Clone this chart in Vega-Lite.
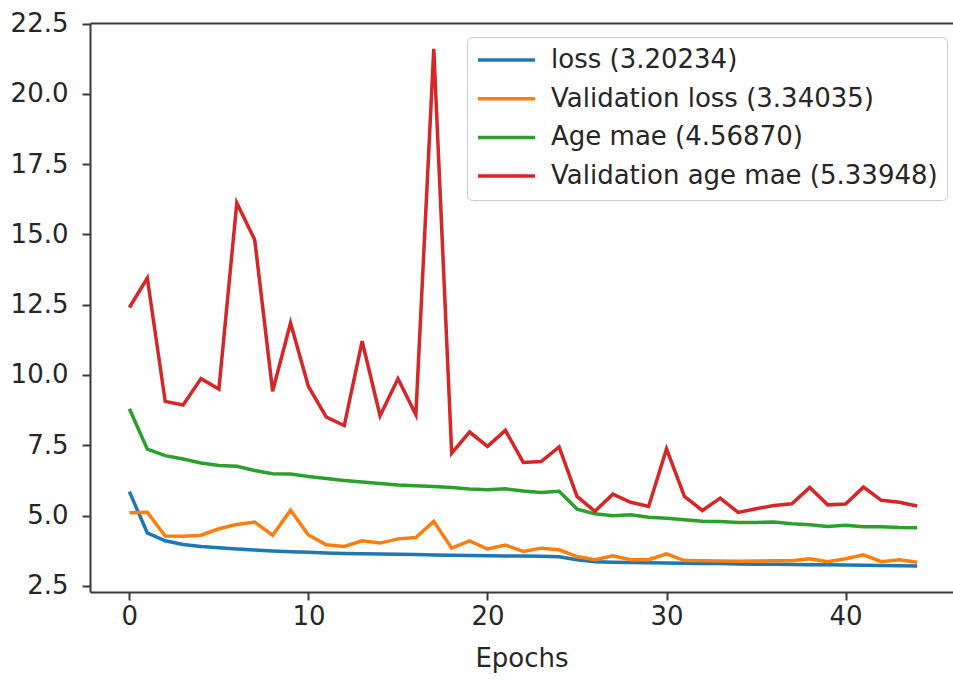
{
  "$schema": "https://vega.github.io/schema/vega-lite/v6.json",
  "autosize": {"type": "none"},
  "padding": {"left": 90, "top": 23, "right": 0, "bottom": 88},
  "width": 863,
  "height": 569,
  "background": "white",
  "config": {
    "view": {"stroke": null},
    "font": "DejaVu Sans",
    "axis": {
      "grid": false,
      "labelFont": "DejaVu Sans",
      "labelFontSize": 26,
      "labelColor": "#262626",
      "titleFont": "DejaVu Sans",
      "titleFontSize": 26,
      "titleFontWeight": "normal",
      "titleColor": "#262626",
      "domainColor": "#3a3a3a",
      "domainWidth": 2,
      "tickColor": "#3a3a3a",
      "tickWidth": 2,
      "tickSize": 8
    }
  },
  "data": {
    "values": [
      {"epoch": 0, "loss": 5.85, "val_loss": 5.10, "age_mae": 8.80, "val_age_mae": 12.40},
      {"epoch": 1, "loss": 4.38, "val_loss": 5.12, "age_mae": 7.36, "val_age_mae": 13.45},
      {"epoch": 2, "loss": 4.10, "val_loss": 4.27, "age_mae": 7.13, "val_age_mae": 9.06},
      {"epoch": 3, "loss": 3.97, "val_loss": 4.26, "age_mae": 7.01, "val_age_mae": 8.93},
      {"epoch": 4, "loss": 3.90, "val_loss": 4.30, "age_mae": 6.87, "val_age_mae": 9.87},
      {"epoch": 5, "loss": 3.85, "val_loss": 4.53, "age_mae": 6.78, "val_age_mae": 9.50},
      {"epoch": 6, "loss": 3.81, "val_loss": 4.68, "age_mae": 6.75, "val_age_mae": 16.12},
      {"epoch": 7, "loss": 3.77, "val_loss": 4.77, "age_mae": 6.60, "val_age_mae": 14.81},
      {"epoch": 8, "loss": 3.74, "val_loss": 4.30, "age_mae": 6.49, "val_age_mae": 9.42},
      {"epoch": 9, "loss": 3.71, "val_loss": 5.19, "age_mae": 6.48, "val_age_mae": 11.85},
      {"epoch": 10, "loss": 3.69, "val_loss": 4.31, "age_mae": 6.39, "val_age_mae": 9.59},
      {"epoch": 11, "loss": 3.67, "val_loss": 3.96, "age_mae": 6.32, "val_age_mae": 8.50},
      {"epoch": 12, "loss": 3.65, "val_loss": 3.90, "age_mae": 6.25, "val_age_mae": 8.20},
      {"epoch": 13, "loss": 3.64, "val_loss": 4.10, "age_mae": 6.19, "val_age_mae": 11.20},
      {"epoch": 14, "loss": 3.63, "val_loss": 4.02, "age_mae": 6.14, "val_age_mae": 8.55},
      {"epoch": 15, "loss": 3.62, "val_loss": 4.17, "age_mae": 6.09, "val_age_mae": 9.87},
      {"epoch": 16, "loss": 3.61, "val_loss": 4.22, "age_mae": 6.06, "val_age_mae": 8.59},
      {"epoch": 17, "loss": 3.60, "val_loss": 4.79, "age_mae": 6.03, "val_age_mae": 21.60},
      {"epoch": 18, "loss": 3.59, "val_loss": 3.84, "age_mae": 6.00, "val_age_mae": 7.22},
      {"epoch": 19, "loss": 3.58, "val_loss": 4.10, "age_mae": 5.94, "val_age_mae": 7.97},
      {"epoch": 20, "loss": 3.57, "val_loss": 3.81, "age_mae": 5.92, "val_age_mae": 7.46},
      {"epoch": 21, "loss": 3.56, "val_loss": 3.95, "age_mae": 5.95, "val_age_mae": 8.03},
      {"epoch": 22, "loss": 3.56, "val_loss": 3.72, "age_mae": 5.87, "val_age_mae": 6.89},
      {"epoch": 23, "loss": 3.55, "val_loss": 3.84, "age_mae": 5.82, "val_age_mae": 6.92},
      {"epoch": 24, "loss": 3.53, "val_loss": 3.78, "age_mae": 5.86, "val_age_mae": 7.44},
      {"epoch": 25, "loss": 3.43, "val_loss": 3.54, "age_mae": 5.23, "val_age_mae": 5.68},
      {"epoch": 26, "loss": 3.36, "val_loss": 3.43, "age_mae": 5.06, "val_age_mae": 5.15},
      {"epoch": 27, "loss": 3.34, "val_loss": 3.57, "age_mae": 4.99, "val_age_mae": 5.76},
      {"epoch": 28, "loss": 3.33, "val_loss": 3.43, "age_mae": 5.03, "val_age_mae": 5.47},
      {"epoch": 29, "loss": 3.32, "val_loss": 3.43, "age_mae": 4.94, "val_age_mae": 5.32},
      {"epoch": 30, "loss": 3.31, "val_loss": 3.64, "age_mae": 4.90, "val_age_mae": 7.37},
      {"epoch": 31, "loss": 3.30, "val_loss": 3.40, "age_mae": 4.85, "val_age_mae": 5.68},
      {"epoch": 32, "loss": 3.29, "val_loss": 3.39, "age_mae": 4.80, "val_age_mae": 5.18},
      {"epoch": 33, "loss": 3.29, "val_loss": 3.38, "age_mae": 4.79, "val_age_mae": 5.62},
      {"epoch": 34, "loss": 3.28, "val_loss": 3.37, "age_mae": 4.75, "val_age_mae": 5.11},
      {"epoch": 35, "loss": 3.27, "val_loss": 3.38, "age_mae": 4.75, "val_age_mae": 5.24},
      {"epoch": 36, "loss": 3.27, "val_loss": 3.39, "age_mae": 4.77, "val_age_mae": 5.36},
      {"epoch": 37, "loss": 3.26, "val_loss": 3.39, "age_mae": 4.71, "val_age_mae": 5.42},
      {"epoch": 38, "loss": 3.25, "val_loss": 3.46, "age_mae": 4.67, "val_age_mae": 6.00},
      {"epoch": 39, "loss": 3.25, "val_loss": 3.36, "age_mae": 4.61, "val_age_mae": 5.38},
      {"epoch": 40, "loss": 3.24, "val_loss": 3.46, "age_mae": 4.65, "val_age_mae": 5.41},
      {"epoch": 41, "loss": 3.23, "val_loss": 3.60, "age_mae": 4.60, "val_age_mae": 6.01},
      {"epoch": 42, "loss": 3.22, "val_loss": 3.36, "age_mae": 4.60, "val_age_mae": 5.54},
      {"epoch": 43, "loss": 3.21, "val_loss": 3.43, "age_mae": 4.57, "val_age_mae": 5.47},
      {"epoch": 44, "loss": 3.20234, "val_loss": 3.34035, "age_mae": 4.5687, "val_age_mae": 5.33948}
    ]
  },
  "transform": [
    {"fold": ["loss", "val_loss", "age_mae", "val_age_mae"], "as": ["series", "value"]}
  ],
  "encoding": {
    "x": {"field": "epoch", "type": "quantitative", "scale": {"domain": [-2.2, 46.0], "nice": false, "zero": false}},
    "y": {"field": "value", "type": "quantitative", "scale": {"domain": [2.28, 22.52], "nice": false, "zero": false}},
    "color": {
      "field": "series",
      "type": "nominal",
      "scale": {
        "domain": ["loss", "val_loss", "age_mae", "val_age_mae"],
        "range": ["#1f77b4", "#ff7f0e", "#2ca02c", "#d62728"]
      }
    }
  },
  "layer": [
    {
      "mark": {"type": "line", "strokeWidth": 3.5, "clip": true},
      "encoding": {
        "x": {
          "field": "epoch", "type": "quantitative",
          "axis": {"orient": "bottom", "values": [0, 10, 20, 30, 40], "title": "Epochs", "labelPadding": 3, "titlePadding": 16}
        },
        "y": {
          "field": "value", "type": "quantitative",
          "axis": {"orient": "left", "values": [2.5, 5, 7.5, 10, 12.5, 15, 17.5, 20, 22.5], "format": ".1f", "title": null, "labelPadding": 14}
        },
        "color": {
          "field": "series", "type": "nominal",
          "legend": {
            "title": null,
            "orient": "none",
            "legendX": 377,
            "legendY": 14,
            "symbolType": "stroke",
            "symbolSize": 3249,
            "symbolStrokeWidth": 3.5,
            "symbolOffset": 0,
            "clipHeight": 28,
            "labelFontSize": 26,
            "labelFont": "DejaVu Sans",
            "labelColor": "#262626",
            "labelOffset": 14,
            "rowPadding": 10.7,
            "padding": 9,
            "strokeColor": "#cccccc",
            "fillColor": "white",
            "cornerRadius": 5,
            "labelLimit": 600,
            "labelExpr": "datum.label == 'loss' ? 'loss (3.20234)' : datum.label == 'val_loss' ? 'Validation loss (3.34035)' : datum.label == 'age_mae' ? 'Age mae (4.56870)' : 'Validation age mae (5.33948)'"
          }
        }
      }
    },
    {
      "mark": {"type": "line", "opacity": 0},
      "encoding": {
        "x": {
          "field": "epoch", "type": "quantitative",
          "axis": {"orient": "top", "labels": false, "ticks": false, "domain": true, "title": null}
        }
      }
    }
  ],
  "resolve": {"axis": {"x": "independent"}}
}
